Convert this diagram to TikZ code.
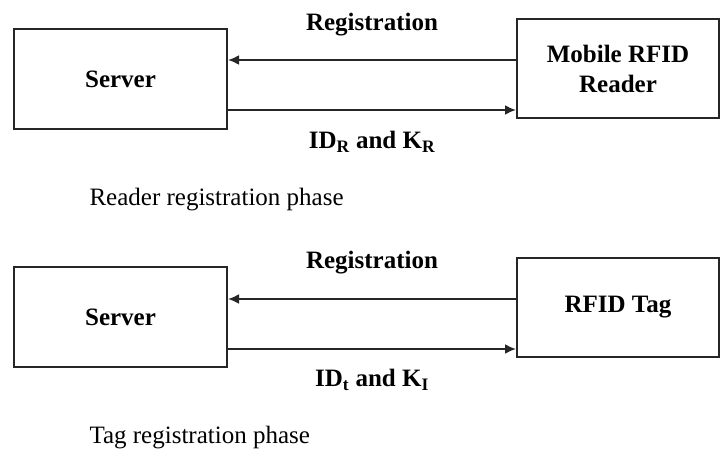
\documentclass[tikz,border=0pt]{standalone}
\usepackage{fontspec}
\setmainfont{Liberation Serif}
\usepackage{tikz}
\usetikzlibrary{arrows.meta}
\usetikzlibrary{positioning}
\tikzset{unit/.style = {draw = linegray, line width = 2pt, rectangle,
                        font = \fontsize{25}{30}\selectfont\bfseries, align = center}}
\tikzset{msg/.style = {draw = linegray, line width = 2pt,
                       -{Latex[length = 11pt, width = 10pt]}}}
\tikzset{lbl/.style = {font = \fontsize{25}{30}\selectfont\bfseries}}
\tikzset{phase/.style = {font = \fontsize{25}{30}\selectfont, anchor = west}}
\definecolor{linegray}{rgb}{0.15, 0.15, 0.15}

\begin{document}
\begin{tikzpicture}[x=1pt, y=-1pt]
    \useasboundingbox (0, 0) rectangle (720, 456);

    \node [unit, minimum width = 213pt, minimum height = 100pt] (server1) at (120.5, 79) {Server};
    \node [unit, minimum width = 202pt, minimum height = 99pt] (reader) at (618, 68.5) {Mobile RFID\\Reader};
    \draw [msg] ([yshift=8.5pt]reader.west) -- ([yshift=8.5pt]reader.west -| server1.east);
    \draw [msg] ([yshift=-31pt]server1.east) -- ([yshift=-31pt]server1.east -| reader.west);
    \node [lbl] (reg1) at (372, 25) {Registration};
    \node [lbl] (keys1) at (372, 142) {ID\textsubscript{R} and K\textsubscript{R}};
    \node [phase] (phase1) at (86, 200) {Reader registration phase};

    \node [unit, minimum width = 213pt, minimum height = 100pt] (server2) at (120.5, 317) {Server};
    \node [unit, minimum width = 202pt, minimum height = 99pt] (tag) at (618, 307.5) {RFID Tag};
    \draw [msg] ([yshift=8.5pt]tag.west) -- ([yshift=8.5pt]tag.west -| server2.east);
    \draw [msg] ([yshift=-32pt]server2.east) -- ([yshift=-32pt]server2.east -| tag.west);
    \node [lbl] (reg2) at (372, 263) {Registration};
    \node [lbl] (keys2) at (372, 380) {ID\textsubscript{t} and K\textsubscript{I}};
    \node [phase] (phase2) at (86, 438) {Tag registration phase};
\end{tikzpicture}
\end{document}
